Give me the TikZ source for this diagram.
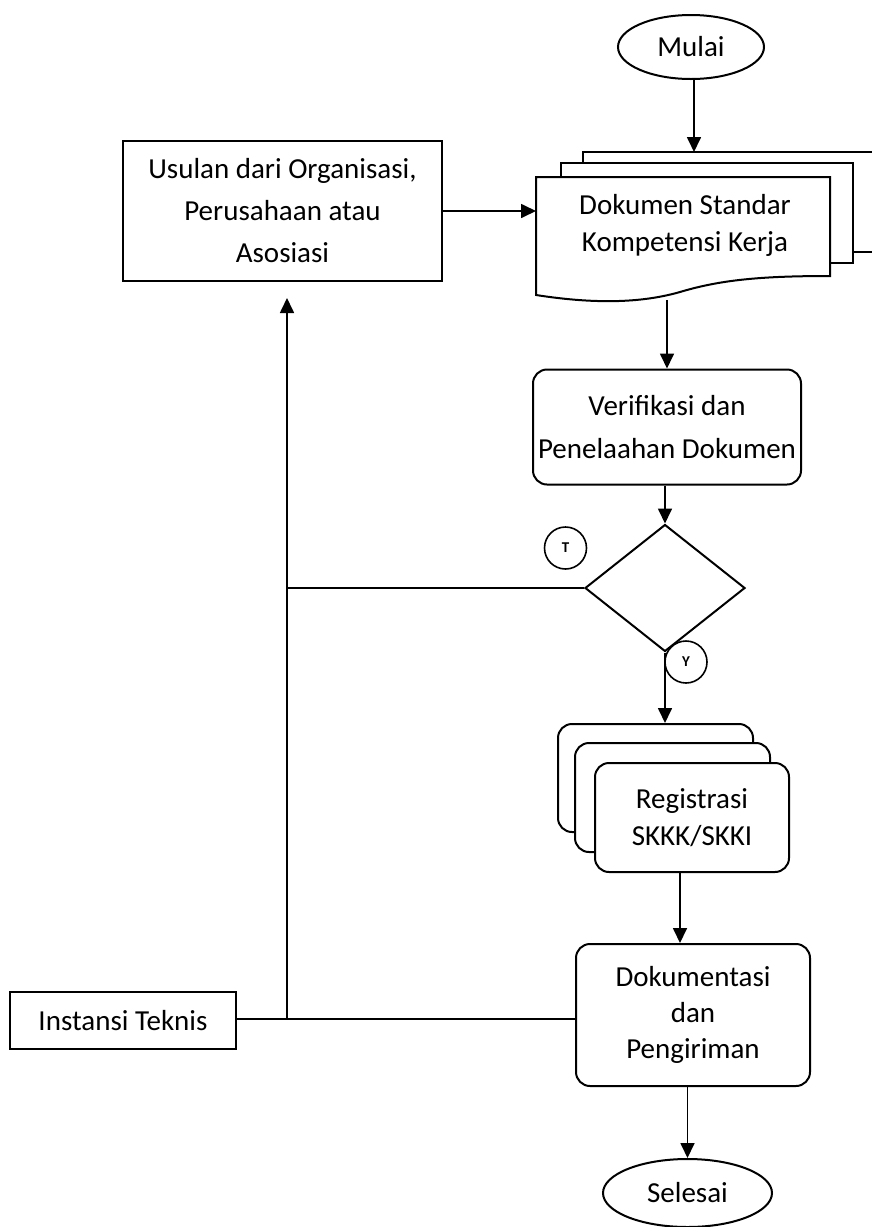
\documentclass[tikz,border=0pt]{standalone}
\usepackage{fontspec}
\setmainfont{Carlito}
\usetikzlibrary{shapes.geometric,arrows.meta}
\begin{document}
\begin{tikzpicture}[x=1pt,y=-1pt,
  txt/.style={align=center,inner sep=0pt,font=\fontsize{29}{37}\selectfont},
  box/.style={txt,draw,line width=2pt,fill=white},
  rbox/.style={box,rounded corners=14pt},
  oval/.style={box,ellipse},
  sheet/.style={line width=2pt,fill=white},
  tag/.style={draw,circle,line width=1.6pt,inner sep=0pt,minimum size=42pt,font=\bfseries\fontsize{15}{15}\selectfont},
  conn/.style={line width=1.7pt},
  arr/.style={conn,-{Triangle[width=14pt,length=15pt]}}
]
\useasboundingbox (0,0) rectangle (871,1227);

% start
\node[oval,minimum width=146pt,minimum height=64pt] (mulai) at (691,47) {Mulai};

% multi document
\draw[sheet] (583,163) -- (583,152) -- (890,152) -- (890,252) -- (853,252);
\draw[sheet] (561,177) -- (561,163) -- (853,163) -- (853,263) -- (830,263);
\draw[sheet] (536,177) -- (830,177) -- (830,276)
  .. controls (760,276) and (720,280) .. (680,292)
  .. controls (645,302) and (600,305) .. (536,295) -- cycle;
\node[txt] (doc) at (685,225) {Dokumen Standar\\Kompetensi Kerja};
\coordinate (docTop) at (694,152);
\coordinate (docL) at (536,211);
\coordinate (docBot) at (667,300);

% proposal box
\node[box,minimum width=319pt,minimum height=140pt,font=\fontsize{29}{42}\selectfont] (usulan) at (282.5,211) {Usulan dari Organisasi,\\Perusahaan atau\\Asosiasi};

% verification
\node[rbox,minimum width=268pt,minimum height=115pt,font=\fontsize{29}{43}\selectfont] (verif) at (667,427) {Verifikasi dan\\Penelaahan Dokumen};

% decision
\node[draw,diamond,line width=2pt,minimum width=160pt,minimum height=127pt,inner sep=0pt] (dec) at (665,588) {};
\node[tag] (tT) at (565.5,548) {T};
\node[tag] (tY) at (686,662) {Y};

% registration stack
\node[rbox,minimum width=195pt,minimum height=108pt] (regback) at (655.5,778) {};
\node[rbox,minimum width=195pt,minimum height=109pt] (regmid) at (672.5,797.5) {};
\node[rbox,minimum width=194pt,minimum height=109pt] (reg) at (692,817.5) {Registrasi\\SKKK/SKKI};

% documentation
\node[rbox,minimum width=234pt,minimum height=142pt,font=\fontsize{29}{36}\selectfont] (dok) at (693,1015) {Dokumentasi\\dan\\Pengiriman};

% technical agency
\node[box,minimum width=226pt,minimum height=57pt] (inst) at (123,1020.5) {Instansi Teknis};

% end
\node[oval,minimum width=169pt,minimum height=68pt] (selesai) at (687.5,1193) {Selesai};

% junctions
\coordinate (jI) at (287,1019);
\coordinate (jT) at (287,588);
\coordinate (upTip) at (287,298);

% connectors
\draw[arr] (mulai.south -| docTop) -- (docTop);
\draw[arr] (usulan.east |- docL) -- (docL);
\draw[arr] (docBot) -- (docBot |- verif.north);
\draw[arr] (verif.south -| dec.north) -- (dec.north);
\draw[conn] (dec.west) -- (jT);
\draw[arr] (dec.south) -- (dec.south |- regback.north);
\draw[arr] ([xshift=-12pt]reg.south) -- ([xshift=-12pt]reg.south |- dok.north);
\draw[conn] (inst.east |- jI) -- (jI) -- (jI -| dok.west);
\draw[arr] (jI) -- (upTip);
\draw[arr] (dok.south -| selesai.north) -- (selesai.north);
\end{tikzpicture}
\end{document}
